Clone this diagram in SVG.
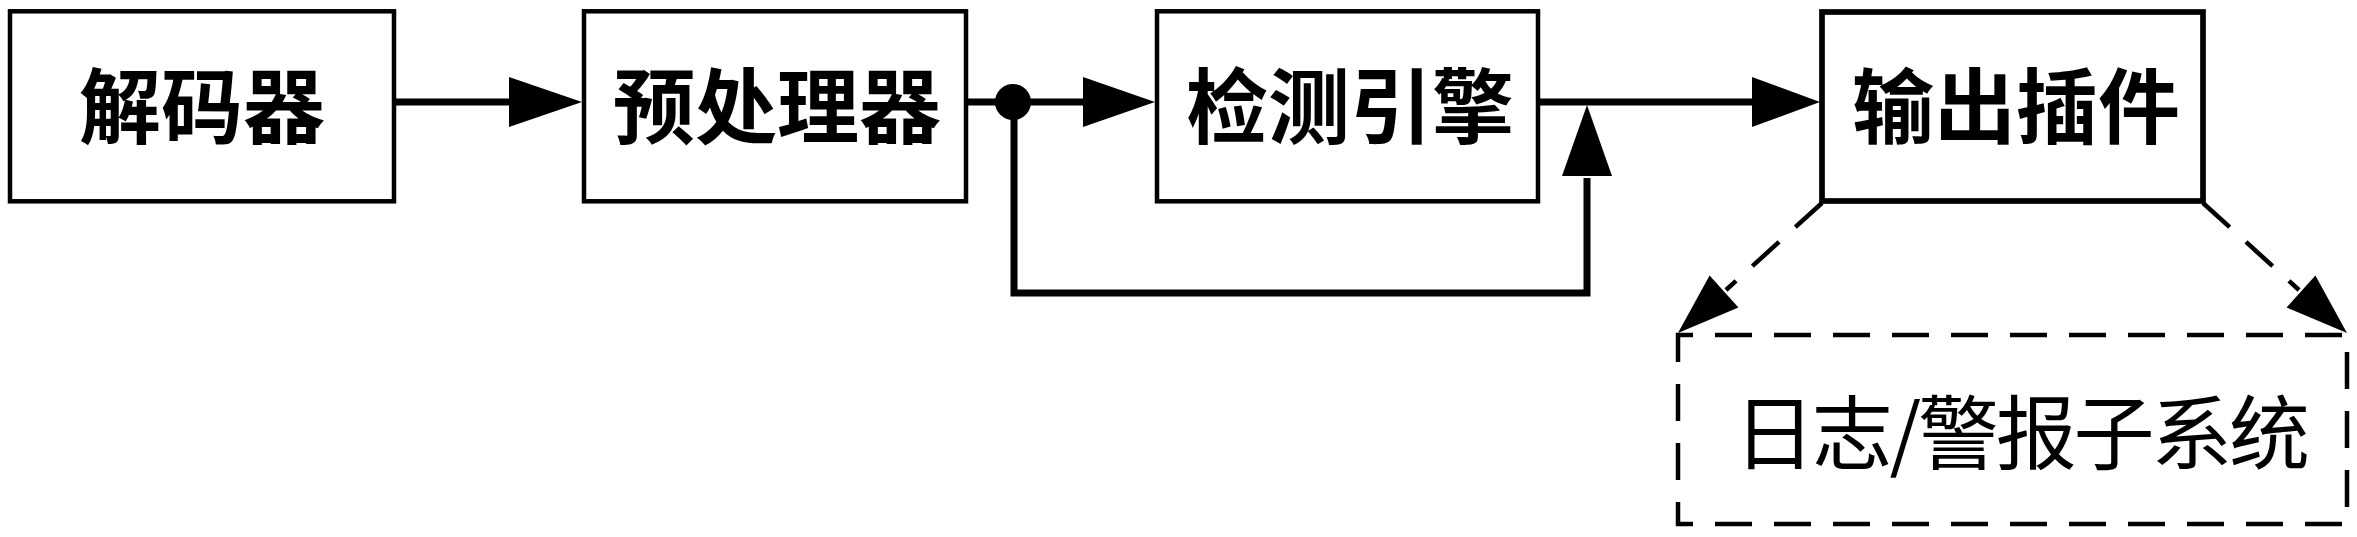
<svg xmlns="http://www.w3.org/2000/svg" width="2357" height="537" viewBox="0 0 2357 537">
<style>
.box{fill:#fff;stroke:#000;stroke-width:4.5}
.box4{fill:#fff;stroke:#000;stroke-width:5.7}
.lbl{font-family:"Noto Sans CJK SC","Noto Sans CJK TC",sans-serif;font-size:82px;font-weight:bold;fill:#000;text-anchor:middle}
.lbl2{font-family:"Noto Sans CJK SC","Noto Sans CJK TC",sans-serif;font-size:81px;font-weight:normal;fill:#000}
.conn{fill:none;stroke:#000;stroke-width:7}
.dash{fill:none;stroke:#000;stroke-width:4.5;stroke-dasharray:36 22}
.head{fill:#000;stroke:none}
</style>
<rect width="2357" height="537" fill="#fff"/>
<g id="connectors">
  <line class="conn" x1="394" y1="102" x2="512" y2="102"/>
  <polygon class="head" points="509,77 582,102 509,127"/>
  <line class="conn" x1="966" y1="102" x2="1086" y2="102"/>
  <polygon class="head" points="1083,77 1155,102 1083,127"/>
  <line class="conn" x1="1538" y1="102" x2="1755" y2="102"/>
  <polygon class="head" points="1752,77 1820,102 1752,127"/>
  <polyline class="conn" points="1014,102 1014,293 1587,293 1587,178" stroke-linejoin="miter"/>
  <polygon class="head" points="1562,176 1612,176 1587,105"/>
  <circle cx="1013" cy="102" r="18" fill="#000"/>
  <line class="dash" x1="1822" y1="203" x2="1726" y2="290"/>
  <polygon class="head" points="1678,333 1709.6,275.5 1738.4,307.5"/>
  <line class="dash" x1="2203" y1="203" x2="2299" y2="290"/>
  <polygon class="head" points="2347,333 2315.4,275.5 2286.6,307.5"/>
</g>
<g id="decoder">
  <rect class="box" x="10" y="11.3" width="384" height="190"/>
  <text class="lbl" x="202" y="137">解码器</text>
</g>
<g id="preprocessor">
  <rect class="box" x="584" y="11.3" width="382" height="190"/>
  <text class="lbl" x="777" y="137">预处理器</text>
</g>
<g id="engine">
  <rect class="box" x="1157" y="11.3" width="381" height="190"/>
  <text class="lbl" x="1350" y="137">检测引擎</text>
</g>
<g id="output">
  <rect class="box4" x="1822" y="12" width="381" height="189"/>
  <text class="lbl" x="2016" y="137">输出插件</text>
</g>
<g id="logging">
  <rect x="1678" y="335" width="669" height="189" fill="none" stroke="#000" stroke-width="4.5" stroke-dasharray="37 22" stroke-dashoffset="22"/>
  <text class="lbl2" x="1734" y="463" textLength="576" lengthAdjust="spacing">日志/警报子系统</text>
</g>
</svg>
